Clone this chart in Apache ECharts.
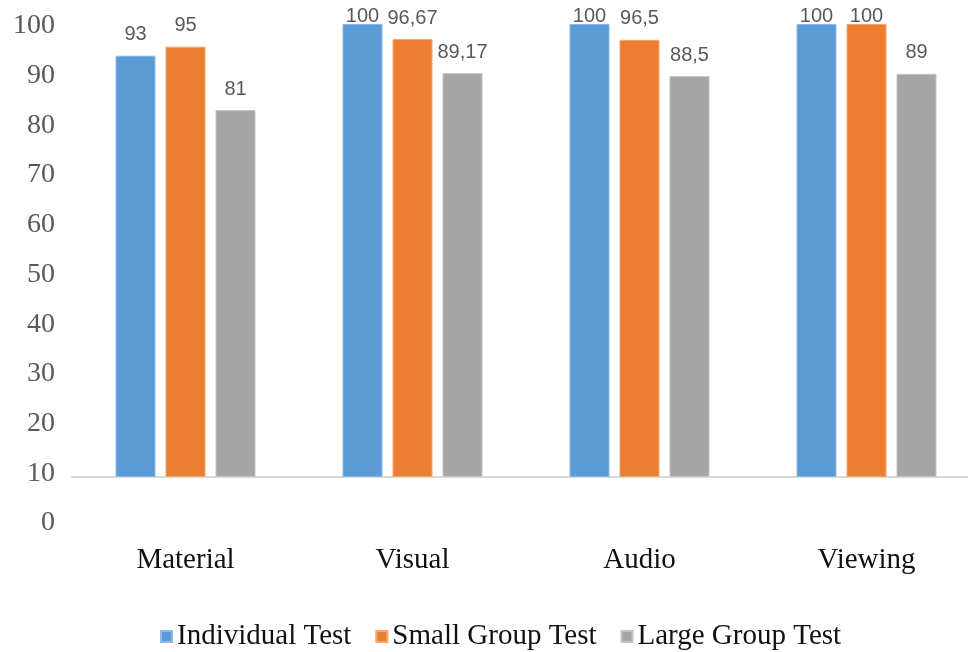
<!DOCTYPE html>
<html>
<head>
<meta charset="utf-8">
<script src="https://cdn.jsdelivr.net/npm/echarts@6/dist/echarts.min.js"></script>
<style>
  html, body { margin: 0; padding: 0; background: #fff; }
  #chart { width: 968px; height: 652px; }
</style>
</head>
<body>
<div id="chart"></div>
<script>
// Test results per component
const categories = ['Material', 'Visual', 'Audio', 'Viewing'];
const individualTest = [93, 100, 100, 100];
const smallGroupTest = [95, 96.67, 96.5, 100];
const largeGroupTest = [81, 89.17, 88.5, 89];
const seriesNames = ['Individual Test', 'Small Group Test', 'Large Group Test'];
const yTicks = [0, 10, 20, 30, 40, 50, 60, 70, 80, 90, 100];

const colors = ['#5B9BD5', '#ED7D31', '#A5A5A5'];
const edges = ['#8DB9E3', '#F3A772', '#C4C4C4'];

const serif = '"Liberation Serif", "Times New Roman", serif';
const sans = '"Liberation Sans", Arial, sans-serif';

function fmt(v) {
  return String(v).replace('.', ',');
}

function barSeries(name, values, i) {
  return {
    name: name,
    type: 'bar',
    xAxisIndex: 0,
    yAxisIndex: 0,
    data: values,
    barWidth: 40,
    barGap: '25%',
    itemStyle: { color: colors[i], borderColor: edges[i], borderWidth: 1 },
    label: {
      show: true,
      position: 'top',
      distance: 11,
      fontFamily: sans,
      fontSize: 20,
      color: '#595959',
      formatter: p => fmt(p.value)
    },
    labelLayout: function (params) {
      // keep labels inside the top of the drawing area
      const r = params.labelRect;
      const minY = 6;
      return r.y < minY ? { dy: minY - r.y } : {};
    }
  };
}

const chart = echarts.init(document.getElementById('chart'), null, { renderer: 'canvas' });
chart.setOption({
  animation: false,
  backgroundColor: '#ffffff',
  grid: [
    { left: 72, width: 908, top: 24, height: 453, outerBoundsMode: 'none', containLabel: false },
    { left: 72, width: 908, top: 26, height: 497, outerBoundsMode: 'none', containLabel: false }
  ],
  legend: {
    data: seriesNames,
    left: 160,
    top: 622,
    padding: 0,
    itemWidth: 11,
    itemHeight: 11,
    itemGap: 24,
    icon: 'rect',
    textStyle: { fontFamily: serif, fontSize: 29, color: '#111' }
  },
  xAxis: [
    {
      type: 'category',
      gridIndex: 0,
      data: categories,
      axisLine: { show: true, lineStyle: { color: '#d9d9d9', width: 2 } },
      axisTick: { show: false },
      axisLabel: { margin: 69, fontFamily: serif, fontSize: 29, color: '#111' }
    },
    {
      type: 'category',
      gridIndex: 1,
      data: categories,
      show: false
    }
  ],
  yAxis: [
    {
      type: 'value',
      gridIndex: 0,
      min: 0,
      max: 100,
      interval: 10,
      show: false,
      splitLine: { show: false }
    },
    {
      type: 'value',
      gridIndex: 1,
      min: yTicks[0],
      max: yTicks[yTicks.length - 1],
      interval: yTicks[1] - yTicks[0],
      axisLine: { show: false },
      axisTick: { show: false },
      splitLine: { show: false },
      axisLabel: { margin: 17, fontFamily: serif, fontSize: 28, color: '#595959' }
    }
  ],
  series: [
    barSeries(seriesNames[0], individualTest, 0),
    barSeries(seriesNames[1], smallGroupTest, 1),
    barSeries(seriesNames[2], largeGroupTest, 2)
  ]
});
</script>
</body>
</html>
